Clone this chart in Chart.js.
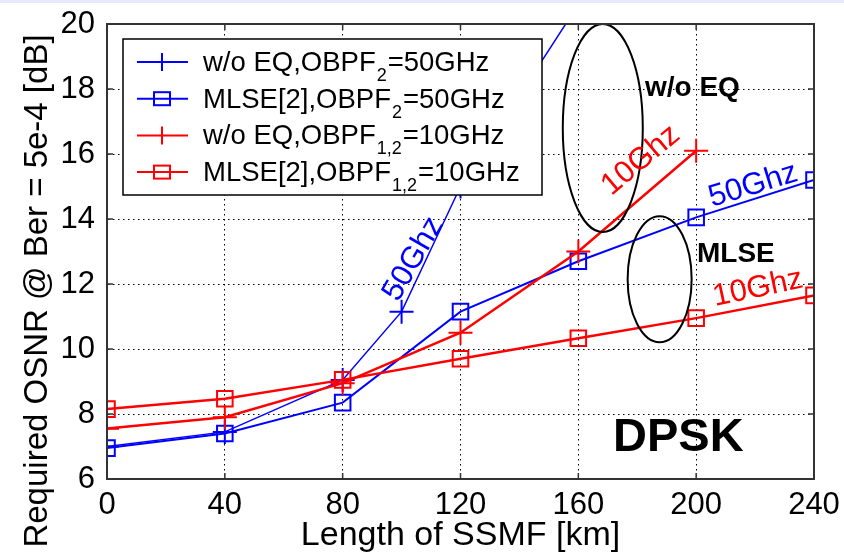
<!DOCTYPE html>
<html>
<head>
<meta charset="utf-8">
<title>DPSK - Required OSNR vs length of SSMF</title>
<script src="https://cdn.jsdelivr.net/npm/chart.js@4.4.0/dist/chart.umd.min.js"></script>
<style>
  html, body { margin: 0; padding: 0; background: #ffffff; }
  #chart { display: block; }
</style>
</head>
<body>
<canvas id="chart" width="844" height="554"></canvas>
<script>
// fiber length (km) used by the full sweeps
const lengthKm = [0, 40, 80, 120, 160, 200, 240];

// w/o EQ, OBPF2 = 50 GHz (extra point at 100 km, leaves the plot after 120 km)
const woEq50Km = [0, 40, 80, 100, 120, 160];
const woEq50 = [7.0, 7.45, 9.05, 11.15, 15.0, 20.6];

// MLSE[2], OBPF2 = 50 GHz
const mlse50 = [6.95, 7.4, 8.35, 11.15, 12.7, 14.05, 15.2];

// w/o EQ, OBPF1,2 = 10 GHz
const woEq10Km = [0, 40, 80, 120, 160, 200];
const woEq10 = [7.55, 7.9, 8.95, 10.5, 13.0, 16.1];

// MLSE[2], OBPF1,2 = 10 GHz
const mlse10 = [8.15, 8.47, 9.05, 9.7, 10.33, 10.95, 11.65];

// axis ranges / ticks
const xRange = [0, 240];
const xStep = 40;
const yRange = [6, 20];
const yStep = 2;

const BLUE = '#0000ff';
const RED = '#ff0000';
const FONT = '"Liberation Sans", Arial, Helvetica, sans-serif';

// legend rows: text, subscript, text after subscript
const legendRows = [
    { pre: 'w/o EQ,OBPF', sub: '2', post: '=50GHz', color: BLUE, marker: 'plus' },
    { pre: 'MLSE[2],OBPF', sub: '2', post: '=50GHz', color: BLUE, marker: 'square' },
    { pre: 'w/o EQ,OBPF', sub: '1,2', post: '=10GHz', color: RED, marker: 'plus' },
    { pre: 'MLSE[2],OBPF', sub: '1,2', post: '=10GHz', color: RED, marker: 'square' }
];

function toXY(xs, ys) {
    return xs.map((x, i) => ({ x: x, y: ys[i] }));
}

// draws the legend, ellipses and text labels on top of the curves
const figureDecor = {
    id: 'figureDecor',
    beforeDraw(chart) {
        const ctx = chart.ctx;
        ctx.save();
        ctx.fillStyle = '#ffffff';
        ctx.fillRect(0, 0, chart.width, chart.height);
        // thin lavender strip of the slide at the top
        ctx.fillStyle = '#e8e8f8';
        ctx.fillRect(0, 0, chart.width, 3);
        ctx.restore();
    },
    afterDatasetsDraw(chart) {
        const ctx = chart.ctx;
        const xs = chart.scales.x;
        const ys = chart.scales.y;

        // ellipses around the groups of curves
        const ellipse = (cx, cy, rx, ry) => {
            ctx.beginPath();
            ctx.ellipse(xs.getPixelForValue(cx), ys.getPixelForValue(cy),
                rx, ry, 0, 0, Math.PI * 2);
            ctx.stroke();
        };
        ctx.save();
        ctx.strokeStyle = '#000000';
        ctx.lineWidth = 2;
        ellipse(168.3, 16.8, 40, 104);
        ellipse(187.6, 12.15, 32, 63);
        ctx.restore();

        // rotated curve labels
        const label = (text, vx, vy, angle, color) => {
            ctx.save();
            ctx.translate(xs.getPixelForValue(vx), ys.getPixelForValue(vy));
            ctx.rotate(angle * Math.PI / 180);
            ctx.fillStyle = color;
            ctx.font = '31px ' + FONT;
            ctx.textAlign = 'left';
            ctx.textBaseline = 'alphabetic';
            ctx.fillText(text, 0, 0);
            ctx.restore();
        };
        label('50Ghz', 98.8, 11.42, -60, BLUE);
        label('10Ghz', 171.2, 14.7, -40, RED);
        label('50Ghz', 205.4, 14.37, -17, BLUE);
        label('10Ghz', 206.4, 11.32, -12, RED);

        // bold annotation texts
        ctx.save();
        ctx.fillStyle = '#000000';
        ctx.textAlign = 'left';
        ctx.textBaseline = 'alphabetic';
        ctx.font = 'bold 28px ' + FONT;
        ctx.fillText('w/o EQ', 645, 96);
        ctx.fillText('MLSE', 697, 262);
        ctx.font = 'bold 47px ' + FONT;
        ctx.fillText('DPSK', 613, 451);
        ctx.restore();

        // legend box
        const box = { left: 123, top: 39, right: 542, bottom: 195 };
        ctx.save();
        ctx.fillStyle = '#ffffff';
        ctx.fillRect(box.left, box.top, box.right - box.left, box.bottom - box.top);
        ctx.strokeStyle = '#000000';
        ctx.lineWidth = 1.5;
        ctx.strokeRect(box.left, box.top, box.right - box.left, box.bottom - box.top);
        legendRows.forEach((row, i) => {
            const cy = 62 + i * 36.7;
            ctx.strokeStyle = row.color;
            ctx.lineWidth = 2;
            ctx.beginPath();
            ctx.moveTo(137, cy);
            ctx.lineTo(188, cy);
            ctx.stroke();
            if (row.marker === 'plus') {
                ctx.beginPath();
                ctx.moveTo(162, cy - 9);
                ctx.lineTo(162, cy + 9);
                ctx.stroke();
            } else {
                ctx.strokeRect(154, cy - 6.5, 16, 13);
            }
            ctx.fillStyle = '#000000';
            ctx.textBaseline = 'alphabetic';
            ctx.textAlign = 'left';
            ctx.font = '27.5px ' + FONT;
            let tx = 203;
            ctx.fillText(row.pre, tx, cy + 9);
            tx += ctx.measureText(row.pre).width;
            ctx.font = '18px ' + FONT;
            ctx.fillText(row.sub, tx + 1, cy + 19);
            tx += ctx.measureText(row.sub).width + 2;
            ctx.font = '27.5px ' + FONT;
            ctx.fillText(row.post, tx, cy + 9);
        });
        ctx.restore();
    },
    afterDraw(chart) {
        const ctx = chart.ctx;
        const area = chart.chartArea;
        const xs = chart.scales.x;
        const ys = chart.scales.y;
        ctx.save();
        // inward tick marks on all four sides
        ctx.strokeStyle = '#333333';
        ctx.lineWidth = 1.5;
        ctx.beginPath();
        xs.ticks.forEach(t => {
            const px = xs.getPixelForValue(t.value);
            ctx.moveTo(px, area.bottom);
            ctx.lineTo(px, area.bottom - 6);
            ctx.moveTo(px, area.top);
            ctx.lineTo(px, area.top + 6);
        });
        ys.ticks.forEach(t => {
            const py = ys.getPixelForValue(t.value);
            ctx.moveTo(area.left, py);
            ctx.lineTo(area.left + 6, py);
            ctx.moveTo(area.right, py);
            ctx.lineTo(area.right - 6, py);
        });
        ctx.stroke();
        // axes box
        ctx.lineWidth = 2;
        ctx.strokeRect(area.left, area.top, area.right - area.left, area.bottom - area.top);

        // y axis title (placed like the original, a bit below the axis centre)
        ctx.translate(47, 291);
        ctx.rotate(-Math.PI / 2);
        ctx.fillStyle = '#000000';
        ctx.font = '33px ' + FONT;
        ctx.textAlign = 'center';
        ctx.textBaseline = 'alphabetic';
        ctx.fillText('Required OSNR @ Ber = 5e-4 [dB]', 0, 0);
        ctx.restore();
    }
};

const ctx = document.getElementById('chart').getContext('2d');

new Chart(ctx, {
    type: 'line',
    data: {
        datasets: [
            {
                label: 'w/o EQ,OBPF1,2=10GHz',
                data: toXY(woEq10Km, woEq10),
                borderColor: RED,
                borderWidth: 2.5,
                pointStyle: 'cross',
                pointRadius: 12,
                pointBorderWidth: 2,
                pointBorderColor: RED,
                backgroundColor: 'transparent',
                order: 0
            },
            {
                label: 'MLSE[2],OBPF1,2=10GHz',
                data: toXY(lengthKm, mlse10),
                borderColor: RED,
                borderWidth: 2.5,
                pointStyle: 'rect',
                pointRadius: 11,
                pointBorderWidth: 2,
                pointBorderColor: RED,
                pointBackgroundColor: 'transparent',
                backgroundColor: 'transparent',
                order: 1
            },
            {
                label: 'w/o EQ,OBPF2=50GHz',
                data: toXY(woEq50Km, woEq50),
                borderColor: BLUE,
                borderWidth: 1.5,
                pointStyle: 'cross',
                pointRadius: 12,
                pointBorderWidth: 2,
                pointBorderColor: BLUE,
                backgroundColor: 'transparent',
                order: 2
            },
            {
                label: 'MLSE[2],OBPF2=50GHz',
                data: toXY(lengthKm, mlse50),
                borderColor: BLUE,
                borderWidth: 2,
                pointStyle: 'rect',
                pointRadius: 11,
                pointBorderWidth: 2,
                pointBorderColor: BLUE,
                pointBackgroundColor: 'transparent',
                backgroundColor: 'transparent',
                order: 3
            }
        ]
    },
    options: {
        responsive: false,
        animation: false,
        devicePixelRatio: 1,
        layout: {
            padding: { top: 24, right: 30, left: 0, bottom: 0 }
        },
        plugins: {
            legend: { display: false },
            tooltip: { enabled: false },
            title: { display: false }
        },
        scales: {
            x: {
                type: 'linear',
                min: xRange[0],
                max: xRange[1],
                afterFit: scale => {
                    scale.height = 75;
                    scale.paddingLeft = 0;
                    scale.paddingRight = 0;
                },
                ticks: {
                    stepSize: xStep,
                    color: '#000000',
                    padding: 8,
                    font: { family: FONT, size: 31 }
                },
                grid: {
                    color: '#000000',
                    lineWidth: 1,
                    drawTicks: false
                },
                border: { display: true, color: '#333333', width: 2, dash: [1.5, 3.5] },
                title: {
                    display: true,
                    text: 'Length of SSMF [km]',
                    color: '#000000',
                    padding: 0,
                    font: { family: FONT, size: 34, lineHeight: 1.1 }
                }
            },
            y: {
                type: 'linear',
                min: yRange[0],
                max: yRange[1],
                afterFit: scale => {
                    scale.width = 107;
                    scale.paddingTop = 0;
                    scale.paddingBottom = 0;
                },
                ticks: {
                    stepSize: yStep,
                    color: '#000000',
                    padding: 12,
                    font: { family: FONT, size: 31 }
                },
                grid: {
                    color: '#000000',
                    lineWidth: 1,
                    drawTicks: false
                },
                border: { display: true, color: '#333333', width: 2, dash: [1.5, 3.5] }
            }
        }
    },
    plugins: [figureDecor]
});
</script>
</body>
</html>
